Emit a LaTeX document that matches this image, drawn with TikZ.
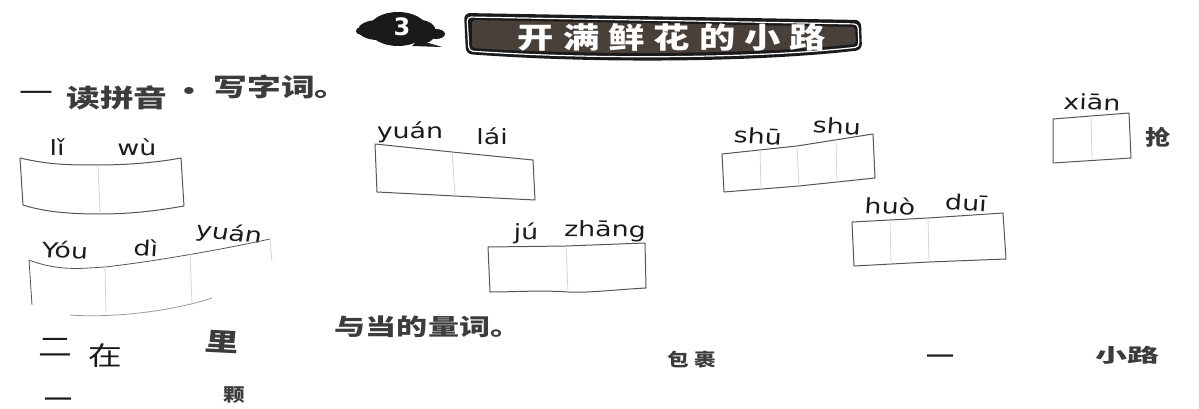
\documentclass[tikz,border=0pt]{standalone}
\usepackage{fontspec}
\setmainfont{DejaVu Sans}
\newfontfamily\cjk{Noto Sans CJK SC}
\newfontfamily\cjkwide[LetterSpace=25]{Noto Sans CJK SC}
\usetikzlibrary{positioning}
\definecolor{inkblack}{HTML}{1A1A1A}
\definecolor{boxline}{HTML}{555555}
\definecolor{cellline}{HTML}{D4D4D4}
\definecolor{bannerfill}{HTML}{4A403A}

\begin{document}
\begin{tikzpicture}[
  x=1pt,y=-1pt,
  pinyin/.style={font=\fontsize{21}{21}\selectfont,text=inkblack,inner sep=0pt,xscale=1.28},
  hanzi/.style={font=\cjk\bfseries\fontsize{25}{25}\selectfont,text=inkblack!85,inner sep=0pt,xscale=1.35},
  thinhan/.style={font=\cjk\fontsize{26}{26}\selectfont,text=inkblack,inner sep=0pt,xscale=1.3},
  smallhan/.style={font=\cjk\bfseries\fontsize{18}{18}\selectfont,text=inkblack!85,inner sep=0pt,xscale=1.2},
  dashline/.style={font=\cjk\bfseries\fontsize{14}{14}\selectfont,text=inkblack,inner sep=0pt,xscale=2},
  wordbox/.style={draw=boxline,line width=1pt,line join=round},
  cell/.style={draw=cellline,line width=.8pt}
]
\useasboundingbox (0,0) rectangle (1199,409);

% header
\fill[inkblack] (398,29) ellipse (29pt and 17pt);
\fill[inkblack] (378,30) ellipse (20pt and 10pt);
\fill[inkblack] (420,32) ellipse (16pt and 12pt);
\fill[inkblack] (360,31) ellipse (4pt and 3.5pt) (436,34) ellipse (9pt and 5pt);
\fill[inkblack] (366,28) -- (380,24) -- (380,36) -- (366,34) -- cycle;
\fill[inkblack] (418,40) -- (442,47) -- (412,46) -- cycle;
\node[font=\bfseries\fontsize{24}{24}\selectfont,text=white,inner sep=0pt] (num) at (402,27) {3};

\fill[inkblack,rounded corners=6pt] (464,13) -- (861,20)
  -- (862,50) .. controls (760,62) and (600,64) .. (466,54) -- cycle;
\fill[bannerfill,rounded corners=3pt] (472,20) -- (855,27)
  -- (856,44) .. controls (760,54) and (600,56) .. (472,48) -- cycle;
\draw[white,line width=1.2pt,rounded corners=4pt] (467,17) -- (858,24)
  -- (859,47) .. controls (760,58) and (600,60) .. (469,51) -- cycle;
\node[font=\cjkwide\bfseries\fontsize{29}{29}\selectfont,text=white,inner sep=0pt,xscale=1.25] (title) at (672,37) {开满鲜花的小路};

% part one
\node[thinhan] (one) at (36,97) {一};
\node[hanzi] (read) at (117,98) {读拼音};
\node[hanzi] (dot) at (189,94) {·};
\node[hanzi] (write) at (281,87) {写字词。};

\node[pinyin] (li) at (57,147) {lǐ};
\node[pinyin] (wu) at (137,147) {wù};
\draw[wordbox] (20,158) .. controls (50,165) and (70,165) .. (98,165)
  .. controls (130,165) and (160,162) .. (181,158) -- (184,206)
  .. controls (150,212) and (125,214) .. (100,214)
  .. controls (70,214) and (45,212) .. (23,205) -- cycle;
\draw[cell] (98,165) -- (100,214);

\node[pinyin] (yuan) at (410,132) {yuán};
\node[pinyin] (lai) at (492,136) {lái};
\draw[wordbox] (375,144) -- (452,152) -- (533,160) -- (535,200) -- (455,196) -- (377,192) -- cycle;
\draw[cell] (452,152) -- (455,196);

\node[pinyin,rotate=-3] (shu) at (758,136) {shū};
\node[pinyin,rotate=-3] (shuu) at (837,126) {shu};
\draw[wordbox] (722,154) -- (797,146) -- (873,134) -- (875,178) -- (799,186) -- (724,192) -- cycle;
\draw[cell] (797,146) -- (799,186);
\draw[cell] (760,150) -- (761,189);
\draw[cell] (836,140) -- (837,182);

\node[pinyin,rotate=-2] (xian) at (1092,102) {xiān};
\draw[wordbox] (1053,119) -- (1129,113) -- (1131,158) -- (1053,163) -- cycle;
\draw[cell] (1091,116) -- (1092,160);
\node[smallhan,font=\cjk\bfseries\fontsize{21}{21}\selectfont] (qiang) at (1158,137) {抢};

\node[pinyin,rotate=-3] (you) at (65,250) {Yóu};
\node[pinyin,rotate=-3] (di) at (146,248) {dì};
\node[pinyin,rotate=-8] (yuanb) at (229,234) {yuán};
\draw[wordbox,line width=.8pt] (29,260) .. controls (60,272) and (85,268) .. (105,267)
  .. controls (150,262) and (220,250) .. (270,239);
\draw[wordbox,line width=.8pt] (29,260) -- (32,305);
\draw[wordbox,draw=boxline!60,line width=.8pt] (70,315) .. controls (110,318) and (170,312) .. (212,298);
\draw[cell] (270,239) -- (272,262);
\draw[cell] (105,267) -- (106,312);
\draw[cell] (190,254) -- (192,304);

\node[pinyin,rotate=-1] (ju) at (526,233) {jú};
\node[pinyin,rotate=-1] (zhang) at (605,231) {zhāng};
\draw[wordbox] (488,247) -- (566,246) -- (645,243) -- (646,288)
  .. controls (610,290) and (590,293) .. (568,292) .. controls (540,290) and (515,292) .. (490,292) -- cycle;
\draw[cell] (566,246) -- (568,292);

\node[pinyin,rotate=-3] (huo) at (890,206) {huò};
\node[pinyin,rotate=-3] (dui) at (966,203) {duī};
\draw[wordbox] (852,222) -- (928,218) -- (1003,213) -- (1006,259) -- (929,262) -- (854,266) -- cycle;
\draw[cell] (928,218) -- (929,262);
\draw[cell] (890,220) -- (891,264);

% part two
\node[thinhan] (two) at (55,347) {二};
\node[thinhan] (zai) at (105,356) {在};
\node[hanzi,rotate=-4] (li2) at (222,342) {里};
\node[hanzi,font=\cjk\bfseries\fontsize{23}{23}\selectfont] (dang) at (428,327) {与当的量词。};
\node[smallhan] (baoguo) at (692,360) {包 裹};
\node[dashline] (yi2) at (940,358) {一};
\node[smallhan,font=\cjk\bfseries\fontsize{19}{19}\selectfont,xscale=1.4] (xiaolu) at (1127,355) {小路};
\node[dashline] (yi1) at (58,401) {一};
\node[smallhan] (ke) at (234,395) {颗};
\end{tikzpicture}
\end{document}
